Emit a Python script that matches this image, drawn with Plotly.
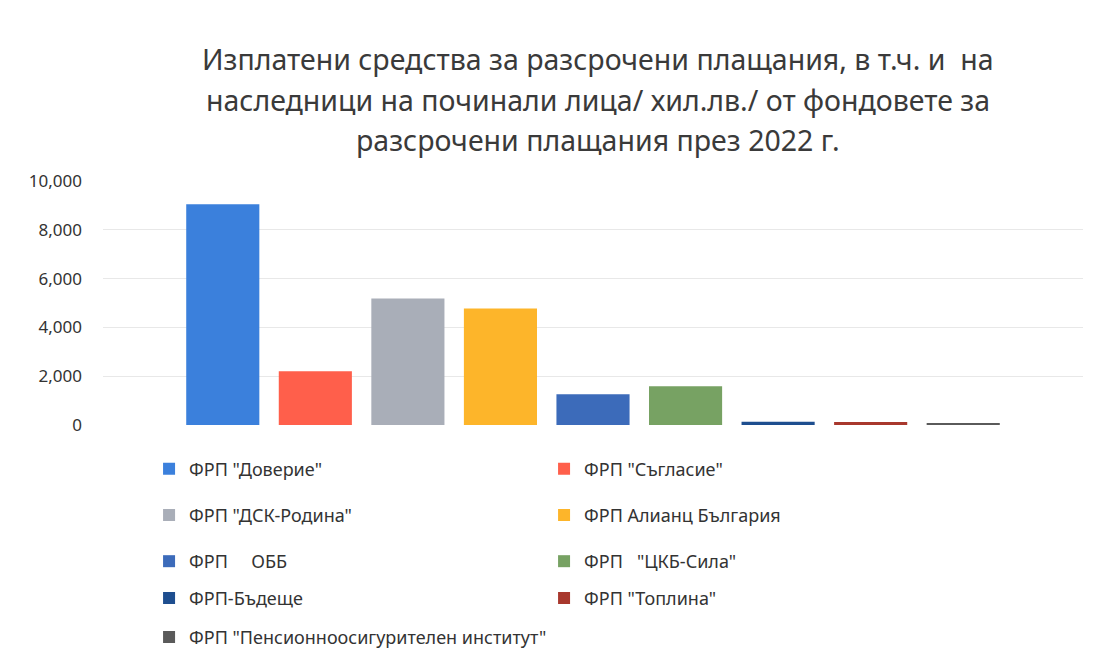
import plotly.graph_objects as go

title_lines = [
    "Изплатени средства за разсрочени плащания, в т.ч. и  на",
    "наследници на починали лица/ хил.лв./ от фондовете за",
    "разсрочени плащания през 2022 г.",
]
category = ["2022"]
funds = [
    'ФРП "Доверие"',
    'ФРП "Съгласие"',
    'ФРП "ДСК-Родина"',
    'ФРП Алианц България',
    'ФРП     ОББ',
    'ФРП   "ЦКБ-Сила"',
    'ФРП-Бъдеще',
    'ФРП "Топлина"',
    'ФРП "Пенсионноосигурителен институт"',
]
values = [9050, 2200, 5180, 4770, 1260, 1590, 130, 120, 60]
colors = ["#3B80DC", "#FF5F4B", "#A9AEB8", "#FDB52A", "#3C6BBA",
          "#77A263", "#1E4E8F", "#A8382D", "#5A5A5A"]
legend_rows = ["legend", "legend", "legend2", "legend2", "legend3",
               "legend3", "legend4", "legend4", "legend5"]
y_ticks = [0, 2000, 4000, 6000, 8000, 10000]
y_tick_labels = ["0", "2,000", "4,000", "6,000", "8,000", "10,000"]

fig = go.Figure()
for name, val, col, lg in zip(funds, values, colors, legend_rows):
    fig.add_trace(go.Bar(x=category, y=[val], name=name, marker_color=col,
                         marker_line_width=0, legend=lg))

legend_common = dict(orientation="h", xanchor="left", yanchor="middle",
                     x=0.047, entrywidth=350, bgcolor="rgba(0,0,0,0)",
                     font=dict(family="Noto Sans", size=18, color="#333333"))
row_y = [-0.176, -0.364, -0.553, -0.703, -0.862]
layout_legends = {}
for i, ry in enumerate(row_y):
    key = "legend" if i == 0 else f"legend{i+1}"
    layout_legends[key] = dict(legend_common, y=ry)
layout_legends["legend5"]["entrywidth"] = 600

title_y = [1.502, 1.331, 1.167]
annotations = [
    dict(text=t, xref="paper", yref="paper", x=0.505, y=ty,
         xanchor="center", yanchor="middle", showarrow=False,
         font=dict(family="Noto Sans", size=28.5, color="#3A3A3A"))
    for t, ty in zip(title_lines, title_y)
]

fig.update_layout(
    width=1102, height=666,
    margin=dict(l=103, r=19, t=181, b=240),
    paper_bgcolor="white", plot_bgcolor="white",
    barmode="group", bargap=0.15, bargroupgap=0.21,
    showlegend=True,
    annotations=annotations,
    xaxis=dict(showticklabels=False, showline=False, showgrid=False, zeroline=False),
    yaxis=dict(range=[0, 10000], tickvals=y_ticks, ticktext=y_tick_labels,
               showgrid=True, gridcolor="#E8E8E8", zeroline=False,
               tickfont=dict(family="Noto Sans", size=17, color="#333333"),
               ticks="", ticklabelstandoff=20),
    **layout_legends,
)
fig.write_html("out.html")
